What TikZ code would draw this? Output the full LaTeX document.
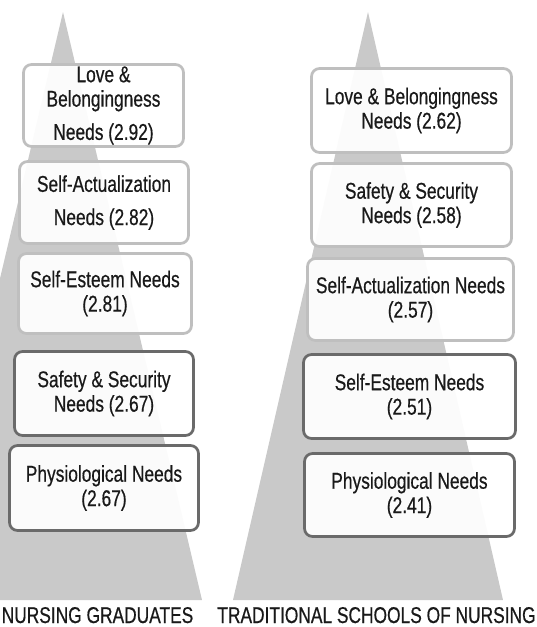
\documentclass[tikz,border=0pt]{standalone}
\usepackage{fontspec}
\setmainfont{Liberation Sans}[FakeStretch=0.76, FakeBold=0.5]
\definecolor{pyramidgray}{HTML}{C9C9C9}
\definecolor{boxlight}{HTML}{BFBFBF}
\definecolor{boxdark}{HTML}{6A6A6A}

\begin{document}
\begin{tikzpicture}[x=0.02cm, y=-0.02cm,
    needbox/.style={draw, line width=0.055cm, rounded corners=0.16cm, fill=white,
      fill opacity=0.93, text opacity=1, text=black!90, align=center, inner sep=0pt,
      font=\fontsize{13}{13.9}\selectfont},
    lightbox/.style={needbox, draw=boxlight},
    darkbox/.style={needbox, draw=boxdark},
    caption/.style={anchor=base, text=black!90, font=\fontsize{13}{14}\selectfont}]
  \useasboundingbox (0,0) rectangle (537,627);
  \clip (0,0) rectangle (537,627);

  % Pyramids behind the boxes
  \fill[pyramidgray] (63,12) -- (202,600) -- (-76,600) -- cycle;
  \fill[pyramidgray] (368,12) -- (503,600) -- (233,600) -- cycle;

  % Nursing graduates
  \node[lightbox, minimum width=3.2cm, minimum height=1.64cm] (gLove) at (103.5,105.5)
    {Love \&\\ Belongingness\\[5pt] Needs (2.92)};
  \node[lightbox, minimum width=3.38cm, minimum height=1.64cm] (gSelfAct) at (104,202.5)
    {Self-Actualization\\[5pt] Needs (2.82)};
  \node[lightbox, minimum width=3.46cm, minimum height=1.6cm] (gEsteem) at (105,293.5)
    {Self-Esteem Needs\\ (2.81)};
  \node[darkbox, minimum width=3.58cm, minimum height=1.68cm] (gSafety) at (104,393.5)
    {Safety \& Security\\ Needs (2.67)};
  \node[darkbox, minimum width=3.78cm, minimum height=1.7cm] (gPhys) at (104,488)
    {Physiological Needs\\ (2.67)};
  \node[caption] (gLabel) at (97.5,623) {NURSING GRADUATES};

  % Traditional schools of nursing
  \node[lightbox, minimum width=4cm, minimum height=1.68cm] (tLove) at (411.5,110.5)
    {Love \& Belongingness\\ Needs (2.62)};
  \node[lightbox, minimum width=4cm, minimum height=1.66cm] (tSafety) at (411.5,205)
    {Safety \& Security\\ Needs (2.58)};
  \node[lightbox, minimum width=4.12cm, minimum height=1.64cm] (tSelfAct) at (410.5,299.5)
    {Self-Actualization Needs\\ (2.57)};
  \node[darkbox, minimum width=4.24cm, minimum height=1.68cm] (tEsteem) at (409.5,396.5)
    {Self-Esteem Needs\\ (2.51)};
  \node[darkbox, minimum width=4.2cm, minimum height=1.66cm] (tPhys) at (409.5,495)
    {Physiological Needs\\ (2.41)};
  \node[caption] (tLabel) at (376.5,623) {TRADITIONAL SCHOOLS OF NURSING};
\end{tikzpicture}
\end{document}
